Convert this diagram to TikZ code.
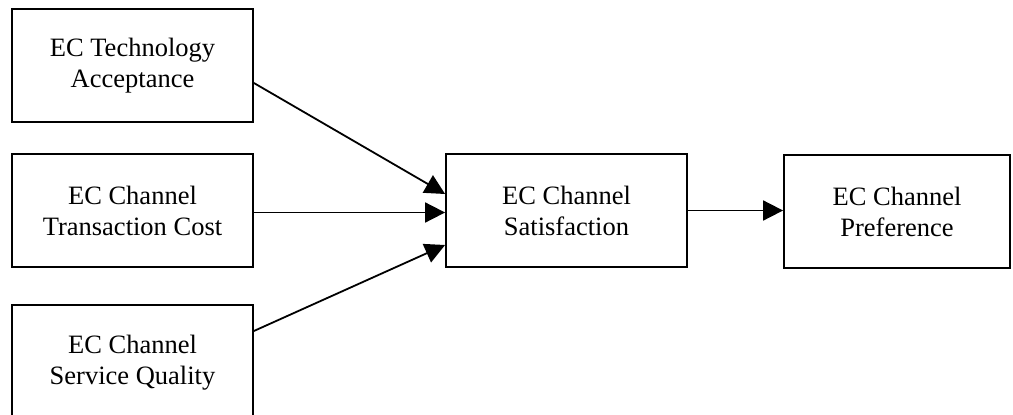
\documentclass[tikz,border=0pt]{standalone}
\usepackage{fontspec}
\setmainfont{Liberation Serif}
\usetikzlibrary{arrows.meta}
\begin{document}
\begin{tikzpicture}[x=1pt,y=-1pt,
  box/.style={draw,line width=1.8pt,minimum width=241pt,minimum height=113pt,inner sep=0pt,align=center,font=\fontsize{26.5}{31}\selectfont},
  arr/.style={line width=1.8pt,-{Triangle[length=20pt,width=20pt]}}]
\useasboundingbox (0,0) rectangle (1013,415);
\node[box] (b1) at (132.5,65.5) {EC Technology\\Acceptance};
\node[box] (b2) at (132.5,210.5) {EC Channel\\Transaction Cost};
\node[box,minimum height=116pt] (b3) at (132.5,363) {EC Channel\\Service Quality};
\node[box] (sat) at (566.5,210.5) {EC Channel\\Satisfaction};
\node[box,minimum width=226pt] (pref) at (897,211.5) {EC Channel\\Preference};
\draw[arr] ([yshift=-17.5pt]b1.east) -- ([yshift=16.5pt]sat.west);
\draw[arr] ([yshift=-2pt]b2.east) -- ([yshift=-2pt]sat.west);
\draw[arr] ([yshift=32pt]b3.east) -- ([yshift=-34.5pt]sat.west);
\draw[arr] (sat.east) -- (pref.west|-sat.east);
\end{tikzpicture}
\end{document}
